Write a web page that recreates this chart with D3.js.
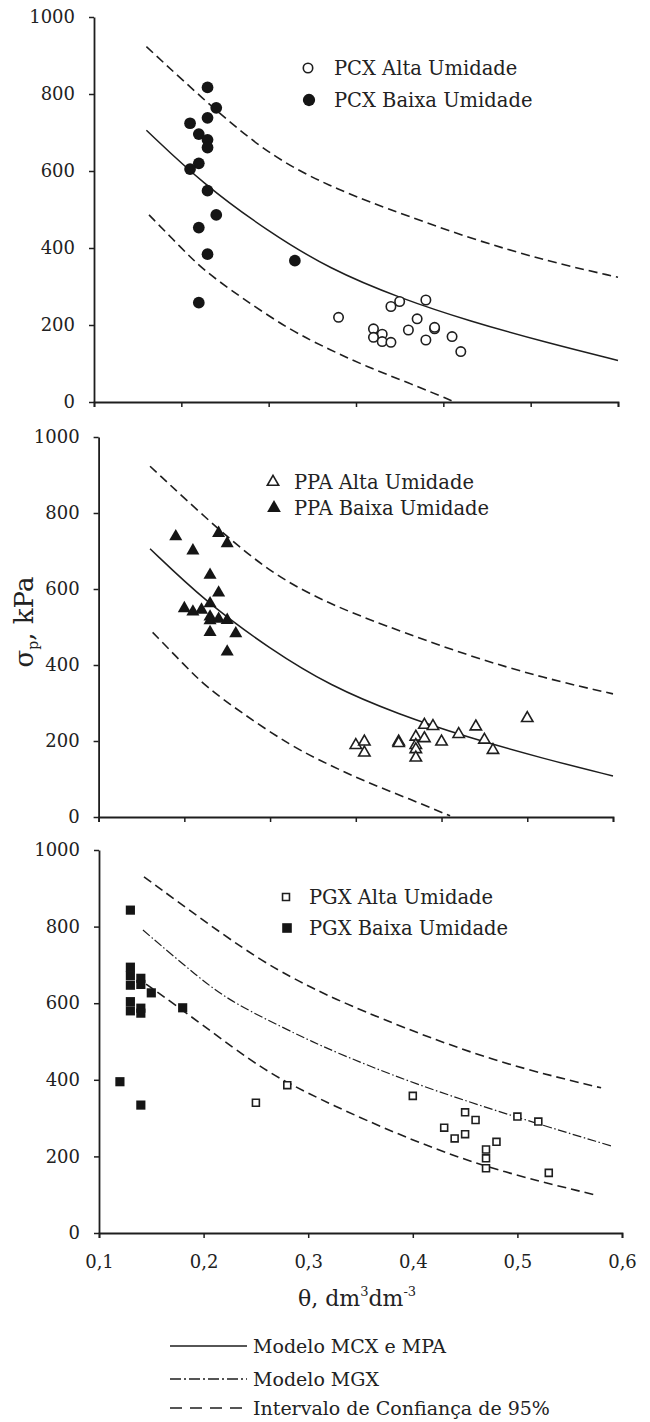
<!DOCTYPE html>
<html>
<head>
<meta charset="utf-8">
<script src="https://cdn.jsdelivr.net/npm/d3@7"></script>
<style>
  body { margin: 0; background: #fff; }
  text { font-family: 'DejaVu Serif', serif; fill: #222; }
</style>
</head>
<body>
<div id="chart"></div>
<script>
// ---- data: [theta, sigma_p (kPa)] ----
const pcxAlta = [[0.38,220],[0.44,248],[0.45,261],[0.48,265],[0.47,216],[0.42,190],[0.43,176],[0.42,168],
  [0.43,157],[0.44,155],[0.46,187],[0.49,190],[0.49,194],[0.48,161],[0.51,170],[0.52,131]];
const pcxBaixa = [[0.23,817],[0.24,764],[0.23,738],[0.21,724],[0.22,696],[0.23,681],[0.23,661],[0.22,620],
  [0.21,605],[0.23,549],[0.24,486],[0.22,453],[0.23,384],[0.22,258],[0.33,367]];
const ppaAlta = [[0.40,189],[0.41,198],[0.41,169],[0.45,198],[0.45,194],[0.47,211],[0.47,189],[0.47,178],
  [0.47,156],[0.48,242],[0.48,207],[0.49,239],[0.50,198],[0.52,218],[0.54,238],[0.55,203],[0.56,176],[0.60,260]];
const ppaBaixa = [[0.19,738],[0.21,701],[0.24,747],[0.25,720],[0.23,637],[0.24,590],[0.20,549],[0.21,540],
  [0.22,545],[0.23,562],[0.23,527],[0.23,517],[0.24,521],[0.25,518],[0.26,483],[0.23,486],[0.25,435]];
const pgxAlta = [[0.25,340],[0.28,386],[0.40,358],[0.43,275],[0.44,247],[0.45,258],[0.45,315],[0.46,295],
  [0.47,218],[0.47,195],[0.47,169],[0.48,238],[0.50,304],[0.52,291],[0.53,157]];
const pgxBaixa = [[0.13,843],[0.13,694],[0.13,672],[0.13,647],[0.13,604],[0.13,580],[0.14,665],[0.14,649],
  [0.14,587],[0.14,574],[0.15,627],[0.18,588],[0.12,395],[0.14,334]];

// model curves, points
const modelMCX = [[0.16,706],[0.225,566],[0.30,442],[0.37,345],[0.45,270],[0.53,210],[0.62,153],[0.70,108]];
const upperMCX = [[0.16,923],[0.24,755],[0.305,635],[0.37,560],[0.43,507],[0.53,425],[0.62,365],[0.70,324]];
const lowerMCX = [[0.163,486],[0.20,400],[0.225,343],[0.267,274],[0.324,187],[0.37,136],[0.412,92],[0.46,50],[0.51,3]];
const modelMGX = [[0.142,791],[0.196,665],[0.228,600],[0.292,515],[0.3206,478],[0.40,390],[0.499,302],[0.59,227]];
const upperMGX = [[0.143,930],[0.247,721],[0.295,652],[0.3206,617],[0.3875,539],[0.483,443],[0.58,379]];
const lowerMGX = [[0.145,650],[0.18,582],[0.247,445],[0.28,392],[0.3206,337],[0.3875,255],[0.47,169],[0.575,99]];

const yTicks = [0, 200, 400, 600, 800, 1000];
const xTicksTop = [0.1, 0.2, 0.3, 0.4, 0.5, 0.6, 0.7];
const xTicksBottom = [0.1, 0.2, 0.3, 0.4, 0.5, 0.6];

const legendLabels = ['Modelo MCX e MPA', 'Modelo MGX', 'Intervalo de Confiança de 95%'];

const width = 650;
const height = 1422;
const ink = '#1e1e1e';

const svg = d3.select('#chart').append('svg')
  .attr('width', width)
  .attr('height', height);

const panels = [
  { left: 94, right: 618, top: 17, bottom: 402, xDomain: [0.1, 0.7], xTicks: xTicksTop, labels: false,
    model: modelMCX, modelDash: null, upper: upperMCX, lower: lowerMCX,
    alta: pcxAlta, baixa: pcxBaixa, symbol: d3.symbolCircle, sizeFilled: 108, sizeOpen: 70,
    legend: { x: 308, tx: 334, y1: 68, y2: 100, a: 'PCX Alta Umidade', b: 'PCX Baixa Umidade' } },
  { left: 98.6, right: 613, top: 437, bottom: 817, xDomain: [0.1, 0.7], xTicks: xTicksTop, labels: false,
    model: modelMCX, modelDash: null, upper: upperMCX, lower: lowerMCX,
    alta: ppaAlta, baixa: ppaBaixa, symbol: d3.symbolTriangle, sizeFilled: 74, sizeOpen: 56,
    legend: { x: 273, tx: 294, y1: 482, y2: 508, a: 'PPA Alta Umidade', b: 'PPA Baixa Umidade' } },
  { left: 99, right: 622, top: 850, bottom: 1233, xDomain: [0.1, 0.6], xTicks: xTicksBottom, labels: true,
    model: modelMGX, modelDash: '9,2.5,1.5,2.5', upper: upperMGX, lower: lowerMGX,
    alta: pgxAlta, baixa: pgxBaixa, symbol: d3.symbolSquare, sizeFilled: 84, sizeOpen: 48,
    legend: { x: 286, tx: 309, y1: 897, y2: 928, a: 'PGX Alta Umidade', b: 'PGX Baixa Umidade' } }
];

const fmtComma = d => d3.format('.1f')(d).replace('.', ',');

panels.forEach(p => {
  const x = d3.scaleLinear().domain(p.xDomain).range([p.left, p.right]);
  const y = d3.scaleLinear().domain([0, 1000]).range([p.bottom, p.top]);
  const g = svg.append('g');

  const line = d3.line()
    .x(d => x(d[0]))
    .y(d => y(d[1]))
    .curve(d3.curveBasis);

  // confidence band
  [p.upper, p.lower].forEach(c => {
    g.append('path')
      .attr('d', line(c))
      .attr('fill', 'none')
      .attr('stroke', ink)
      .attr('stroke-width', 1.6)
      .attr('stroke-dasharray', '9,5');
  });

  // model
  g.append('path')
    .attr('d', line(p.model))
    .attr('fill', 'none')
    .attr('stroke', ink)
    .attr('stroke-width', p.modelDash ? 1.2 : 1.5)
    .attr('stroke-dasharray', p.modelDash);

  const sym = d3.symbol().type(p.symbol);

  // low moisture, filled
  g.selectAll('.baixa')
    .data(p.baixa)
    .enter().append('path')
      .attr('class', 'baixa')
      .attr('d', sym.size(p.sizeFilled)())
      .attr('transform', d => `translate(${x(d[0])},${y(d[1])})`)
      .attr('fill', '#151515');

  // high moisture, open
  g.selectAll('.alta')
    .data(p.alta)
    .enter().append('path')
      .attr('class', 'alta')
      .attr('d', sym.size(p.sizeOpen)())
      .attr('transform', d => `translate(${x(d[0])},${y(d[1])})`)
      .attr('fill', '#fff')
      .attr('stroke', ink)
      .attr('stroke-width', 1.6);

  // axes
  const xAxis = d3.axisBottom(x)
    .tickValues(p.xTicks)
    .tickSize(5)
    .tickPadding(17)
    .tickFormat(p.labels ? fmtComma : '');
  const gx = g.append('g')
    .attr('transform', `translate(0,${p.bottom})`)
    .call(xAxis);

  const yAxis = d3.axisLeft(y)
    .tickValues(yTicks)
    .tickSize(5)
    .tickSizeOuter(0)
    .tickPadding(14)
    .tickFormat(d3.format('d'));
  const gy = g.append('g')
    .attr('transform', `translate(${p.left},0)`)
    .call(yAxis);

  [gx, gy].forEach(a => {
    a.select('.domain').attr('stroke', ink).attr('stroke-width', 1.8);
    a.selectAll('.tick line').attr('stroke', ink).attr('stroke-width', 1.5);
    a.selectAll('.tick text')
      .attr('fill', ink)
      .style('font-family', "'DejaVu Serif', serif")
      .style('font-size', '18px');
  });

  // panel legend
  const lg = g.append('g');
  lg.append('path')
    .attr('d', sym.size(p.sizeOpen)())
    .attr('transform', `translate(${p.legend.x},${p.legend.y1})`)
    .attr('fill', '#fff')
    .attr('stroke', ink)
    .attr('stroke-width', 1.6);
  lg.append('path')
    .attr('d', sym.size(p.sizeFilled * 1.1)())
    .attr('transform', `translate(${p.legend.x + 1},${p.legend.y2})`)
    .attr('fill', '#151515');
  lg.append('text')
    .attr('x', p.legend.tx).attr('y', p.legend.y1).attr('dy', '0.35em')
    .style('font-size', '19.5px')
    .text(p.legend.a);
  lg.append('text')
    .attr('x', p.legend.tx).attr('y', p.legend.y2).attr('dy', '0.35em')
    .style('font-size', '19.5px')
    .text(p.legend.b);
});

// y axis title
const yTitle = svg.append('text')
  .attr('transform', 'translate(33,622) rotate(-90)')
  .attr('text-anchor', 'middle')
  .style('font-size', '26px');
yTitle.append('tspan').text('σ');
yTitle.append('tspan').attr('dy', 5).style('font-size', '14px').text('p');
yTitle.append('tspan').attr('dy', -5).text(', kPa');

// x axis title
const xTitle = svg.append('text')
  .attr('x', 357).attr('y', 1306)
  .attr('text-anchor', 'middle')
  .style('font-size', '22px');
xTitle.append('tspan').text('θ, dm');
xTitle.append('tspan').attr('dy', -10).style('font-size', '13px').text('3');
xTitle.append('tspan').attr('dy', 10).text('dm');
xTitle.append('tspan').attr('dy', -10).style('font-size', '13px').text('-3');

// bottom legend
const legendStyles = [
  { dash: null, w: 1.5 },
  { dash: '11,3,2,3', w: 1.3 },
  { dash: '12,8', w: 1.6 }
];
const legendY = [1346, 1379, 1408];
legendLabels.forEach((label, i) => {
  svg.append('line')
    .attr('x1', 170).attr('x2', 247)
    .attr('y1', legendY[i]).attr('y2', legendY[i])
    .attr('stroke', ink)
    .attr('stroke-width', legendStyles[i].w)
    .attr('stroke-dasharray', legendStyles[i].dash);
  svg.append('text')
    .attr('x', 253).attr('y', legendY[i]).attr('dy', '0.35em')
    .style('font-size', '19px')
    .text(label);
});
</script>
</body>
</html>
